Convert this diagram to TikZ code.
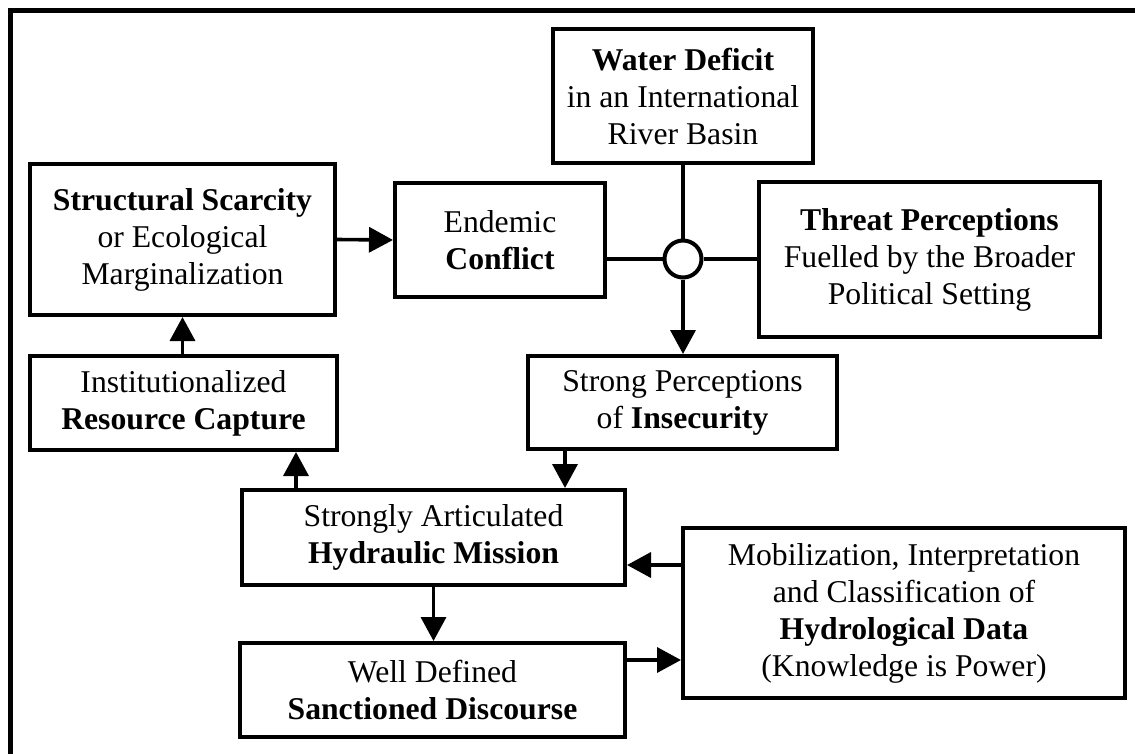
\documentclass[tikz,border=0pt]{standalone}
\usepackage{fontspec}
\setmainfont{Liberation Serif}
\usetikzlibrary{arrows.meta}
\begin{document}
\begin{tikzpicture}[x=1pt,y=-1pt,
  every node/.style={font=\fontsize{31.7}{37}\selectfont},
  box/.style={draw,line width=4pt,inner sep=0pt,align=center,fill=white},
  conn/.style={line width=3.6pt},
  arr/.style={line width=3.6pt,-{Triangle[length=24pt,width=25pt]}}]
\useasboundingbox (0,0) rectangle (1135,753);
\clip (0,0) rectangle (1135,753);
\fill[white] (0,0) rectangle (1135,753);
\draw[line width=5pt] (10.5,780) -- (10.5,10.5) -- (1160,10.5);

\node[box,minimum width=260pt,minimum height=134pt] (water) at (683,96)
  {\textbf{Water Deficit}\\in an International\\River Basin};
\node[box,minimum width=305pt,minimum height=151pt] (struct) at (182.5,239.5)
  {\textbf{Structural Scarcity}\\or Ecological\\Marginalization};
\node[box,minimum width=210pt,minimum height=114pt] (endemic) at (500,240)
  {Endemic\\\textbf{Conflict}};
\node[box,minimum width=341pt,minimum height=155pt] (threat) at (929.5,259.5)
  {\textbf{Threat Perceptions}\\Fuelled by the Broader\\Political Setting};
\node[box,minimum width=307pt,minimum height=94pt] (res) at (183.5,403)
  {Institutionalized\\\textbf{Resource Capture}};
\node[box,minimum width=309pt,minimum height=93pt] (ins) at (682.5,402.5)
  {Strong Perceptions\\of \textbf{Insecurity}};
\node[box,minimum width=383pt,minimum height=95pt] (hyd) at (433.5,537.5)
  {Strongly Articulated\\\textbf{Hydraulic Mission}};
\node[box,minimum width=385pt,minimum height=94pt] (san) at (432.5,690)
  {Well Defined\\\textbf{Sanctioned Discourse}};
\node[box,minimum width=442pt,minimum height=170pt] (mob) at (904,613)
  {Mobilization, Interpretation\\and Classification of\\\textbf{Hydrological Data}\\(Knowledge is Power)};
\node[circle,draw,line width=4pt,fill=white,minimum size=37pt,inner sep=0pt] (hub) at (683,259) {};

\draw[arr] (struct.east) -- (endemic.west);
\draw[conn] (water.south) -- (hub.north);
\draw[conn] (endemic.east |- hub.west) -- (hub.west);
\draw[conn] (hub.east) -- (threat.west |- hub.east);
\draw[arr] (hub.south) -- (hub.south |- ins.north);
\draw[arr] (res.north -| struct.south) -- (struct.south);
\draw[arr] ([xshift=56pt]hyd.north west) -- ([xshift=56pt]hyd.north west |- res.south);
\draw[arr] ([xshift=39pt]ins.south west) -- ([xshift=39pt]ins.south west |- hyd.north);
\draw[arr] (hyd.south) -- (hyd.south |- san.north);
\draw[arr] ([yshift=-39pt]mob.north west) -- ([yshift=-39pt]mob.north west -| hyd.east);
\draw[arr] ([yshift=-19pt]san.north east) -- ([yshift=-19pt]san.north east -| mob.west);
\end{tikzpicture}
\end{document}
